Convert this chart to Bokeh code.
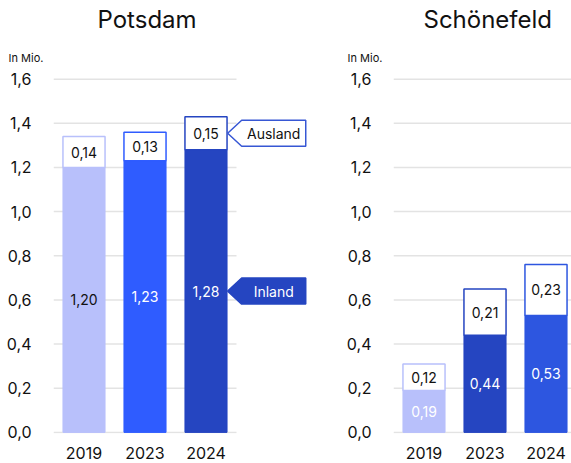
from bokeh.plotting import figure
from bokeh.layouts import row
from bokeh.models import (ColumnDataSource, Range1d, FixedTicker, CustomJSTickFormatter, Title)
from bokeh.core.properties import value
from bokeh.embed import file_html
from bokeh.resources import INLINE

# ---------------- data ----------------
years = ["2019", "2023", "2024"]
potsdam_inland = [1.20, 1.23, 1.28]
potsdam_ausland = [0.14, 0.13, 0.15]
schoenefeld_inland = [0.19, 0.44, 0.53]
schoenefeld_ausland = [0.12, 0.21, 0.23]
potsdam_colors = ["#b8c0fb", "#2f5cff", "#2545c1"]
schoenefeld_colors = ["#b8c0fb", "#2545c1", "#2d56e0"]
potsdam_inland_text = ["#111111", "#ffffff", "#ffffff"]
schoenefeld_inland_text = ["#ffffff", "#ffffff", "#ffffff"]
y_ticks = [0.0, 0.2, 0.4, 0.6, 0.8, 1.0, 1.2, 1.4, 1.6]
titles = ["Potsdam", "Schönefeld"]
unit_label = "In Mio."
callout_labels = ["Ausland", "Inland"]

FONT = "Inter"
BAR_W = 0.69
GRID_COLOR = "#e3e3e3"
STEP_PX = 61.0  # pixel width of one category slot
FIG_H = 463


def fmt(v):
    return f"{v:.2f}".replace(".", ",")


def make_panel(title, inland, ausland, colors, inland_text, width, border_left,
               title_offset, unit_offset):
    frame_w = width - border_left
    x_end = -0.5 + frame_w / STEP_PX
    p = figure(width=width, height=FIG_H, output_backend="svg", toolbar_location=None,
               x_range=Range1d(-0.5, x_end), y_range=Range1d(-0.005, 1.612),
               min_border_left=border_left, min_border_right=0,
               min_border_top=20, min_border_bottom=30)
    p.outline_line_color = None
    p.xgrid.visible = False
    p.ygrid.visible = False
    p.background_fill_color = "white"
    p.border_fill_color = "white"

    xs = list(range(len(years)))

    # grid lines (only across the bar area)
    p.segment(x0=[-0.5] * len(y_ticks), x1=[min(2.5, x_end)] * len(y_ticks),
              y0=y_ticks, y1=y_ticks, line_color=GRID_COLOR, line_width=1.5)

    tops = [a + b for a, b in zip(inland, ausland)]
    src = ColumnDataSource(dict(
        x=xs, inland=inland, tops=tops, colors=colors,
        mid_in=[v / 2 for v in inland],
        mid_out=[a + b / 2 for a, b in zip(inland, ausland)],
        txt_in=[fmt(v) for v in inland], txt_out=[fmt(v) for v in ausland],
        txt_in_col=inland_text,
    ))
    p.vbar(x="x", bottom=0, top="inland", width=BAR_W, source=src,
           fill_color="colors", line_color="colors", line_width=1)
    p.vbar(x="x", bottom="inland", top="tops", width=BAR_W, source=src,
           fill_color="white", line_color="colors", line_width=1.5)
    p.text(x="x", y="mid_in", text="txt_in", source=src, text_color="txt_in_col",
           text_align="center", text_baseline="middle",
           text_font=value(FONT), text_font_size="14px")
    p.text(x="x", y="mid_out", text="txt_out", source=src, text_color="#111111",
           text_align="center", text_baseline="middle",
           text_font=value(FONT), text_font_size="14px")

    # axes
    p.yaxis.ticker = FixedTicker(ticks=y_ticks)
    p.yaxis.formatter = CustomJSTickFormatter(code="return tick.toFixed(1).replace('.', ',')")
    p.xaxis.ticker = FixedTicker(ticks=xs)
    p.xaxis.major_label_overrides = {i: y for i, y in enumerate(years)}
    for ax in (p.xaxis, p.yaxis):
        ax.axis_line_color = None
        ax.major_tick_line_color = None
        ax.minor_tick_line_color = None
        ax.major_label_text_font = FONT
        ax.major_label_text_font_size = "16px"
        ax.major_label_text_color = "#111111"
    p.yaxis.major_label_standoff = 16
    p.xaxis.major_label_standoff = 7

    # unit label (closest to the plot) and title above it
    p.add_layout(Title(text=unit_label, align="left", offset=unit_offset,
                       text_font=FONT, text_font_size="11px", text_font_style="normal",
                       text_color="#111111", standoff=24), "above")
    p.add_layout(Title(text=title, align="left", offset=title_offset,
                       text_font=FONT, text_font_size="24px", text_font_style="normal",
                       text_color="#111111", standoff=5), "above")
    return p, src


p1, s1 = make_panel(titles[0], potsdam_inland, potsdam_ausland, potsdam_colors,
                    potsdam_inland_text, 308, 53, 44, -45)
p2, s2 = make_panel(titles[1], schoenefeld_inland, schoenefeld_ausland, schoenefeld_colors,
                    schoenefeld_inland_text, 263, 85, 30, -46)

# callouts for the 2024 Potsdam bar
i = len(years) - 1
tip_x = i + BAR_W / 2 + 0.01
box_l = tip_x + 0.23
box_r = tip_x + 1.28
hh = 0.059
mid_out = potsdam_inland[i] + potsdam_ausland[i] / 2
mid_in = potsdam_inland[i] / 2
for mid, lab, fill, line, tcol in [
    (mid_out, callout_labels[0], "white", "#3757d4", "#111111"),
    (mid_in, callout_labels[1], "#2545c1", "#2545c1", "#ffffff"),
]:
    p1.patch(x=[tip_x, box_l, box_r, box_r, box_l],
             y=[mid, mid + hh, mid + hh, mid - hh, mid - hh],
             fill_color=fill, line_color=line, line_width=1.5)
    p1.text(x=[(box_l + box_r) / 2], y=[mid], text=[lab], text_color=tcol,
            text_align="center", text_baseline="middle",
            text_font=value(FONT), text_font_size="14px")

layout = row(p1, p2)
open("out.html", "w").write(file_html(layout, INLINE))
